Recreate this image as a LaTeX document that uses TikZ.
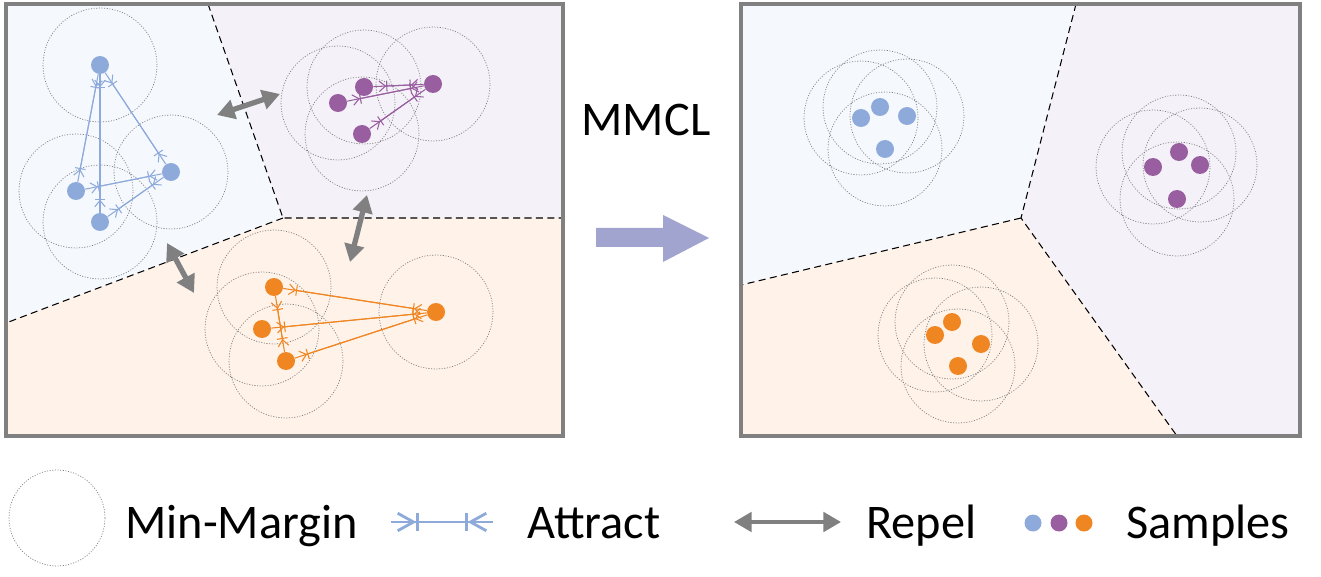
\documentclass[tikz,border=0pt]{standalone}
\usepackage{fontspec}
\setmainfont{Carlito}
\usetikzlibrary{arrows.meta}
\definecolor{sblue}{RGB}{142,170,219}
\definecolor{spurple}{RGB}{152,94,160}
\definecolor{sorange}{RGB}{240,134,34}
\definecolor{rblue}{RGB}{245,249,254}
\definecolor{rpurple}{RGB}{244,241,248}
\definecolor{rorange}{RGB}{254,242,233}
\definecolor{framegray}{RGB}{128,128,128}
\definecolor{mmclarrow}{RGB}{162,164,208}
\tikzset{
  samplept/.style={circle,fill=#1,inner sep=0pt,minimum size=.36cm},
  minmargin/.style={draw=gray,line width=.4pt,dash pattern=on .6pt off .9pt},
  attract/.style={draw=#1,line width=.6pt,postaction={draw=#1,-},
    {Straight Barb[reversed,length=3.6pt,width=6pt,sep=3pt]Bar[width=6pt]}-{Bar[width=6pt]Straight Barb[reversed,length=3.6pt,width=6pt,sep=3pt]}},
  attractkey/.style={draw=#1,line width=1.6pt,postaction={draw=#1,-},
    {Straight Barb[reversed,length=9pt,width=10pt,sep=3pt]Bar[width=10pt]}-{Bar[width=10pt]Straight Barb[reversed,length=9pt,width=10pt,sep=3pt]}},
  repel/.style={draw=framegray,line width=3pt,{Triangle[length=10pt,width=11pt]}-{Triangle[length=10pt,width=11pt]}},
  panel/.style={draw=framegray,line width=2.3pt},
  bound/.style={dash pattern=on 4pt off 2.5pt,line width=.6pt},
  legendtext/.style={inner sep=0pt,font=\fontsize{27.5}{33}\selectfont}
}
\begin{document}
\begin{tikzpicture}[x={(.02cm,0)},y={(0,-.02cm)}]
\useasboundingbox (0,0) rectangle (1321,577);

% before: left panel
\fill[rblue] (6,4) -- (208,4) -- (283,218) -- (6,323) -- cycle;
\fill[rpurple] (208,4) -- (563,4) -- (563,218) -- (283,218) -- cycle;
\fill[rorange] (6,323) -- (283,218) -- (563,218) -- (563,436) -- (6,436) -- cycle;
\draw[bound] (208,4) -- (283,218) -- (563,218);
\draw[bound] (283,218) -- (6,323);

\node[samplept=sblue] (b1) at (100,65) {};
\node[samplept=sblue] (b2) at (76,191) {};
\node[samplept=sblue] (b3) at (100,222) {};
\node[samplept=sblue] (b4) at (171,172) {};
\node[samplept=spurple] (p1) at (364,87) {};
\node[samplept=spurple] (p2) at (338,103) {};
\node[samplept=spurple] (p3) at (362,134) {};
\node[samplept=spurple] (p4) at (433,84) {};
\node[samplept=sorange] (o1) at (274,287) {};
\node[samplept=sorange] (o2) at (262,329) {};
\node[samplept=sorange] (o3) at (286,361) {};
\node[samplept=sorange] (o4) at (436,312) {};

\foreach \n in {b1,b2,b3,b4,p1,p2,p3,p4,o1,o2,o3,o4}
  \draw[minmargin] (\n) circle (1.14cm);

\draw[attract=sblue] (b1) -- (b2);
\draw[attract=sblue] (b1) -- (b3);
\draw[attract=sblue] (b1) -- (b4);
\draw[attract=sblue] (b2) -- (b4);
\draw[attract=sblue] (b3) -- (b4);
\draw[attract=spurple] (p1) -- (p4);
\draw[attract=spurple] (p2) -- (p4);
\draw[attract=spurple] (p3) -- (p4);
\draw[attract=sorange] (o1) -- (o4);
\draw[attract=sorange] (o2) -- (o4);
\draw[attract=sorange] (o3) -- (o4);
\draw[attract=sorange] (o1) -- (o3);

\coordinate (r1a) at (217,115);
\coordinate (r1b) at (280,94);
\coordinate (r2a) at (367,195);
\coordinate (r2b) at (350,262);
\coordinate (r3a) at (167,243);
\coordinate (r3b) at (194,293);
\draw[repel] (r1a) -- (r1b);
\draw[repel] (r2a) -- (r2b);
\draw[repel] (r3a) -- (r3b);
\draw[panel] (6,4) rectangle (563,436);

% MMCL
\node[legendtext,anchor=base] (mmcl) at (646,136) {MMCL};
\fill[mmclarrow] (596,228) -- (663,228) -- (663,215) -- (709,238)
  -- (663,262) -- (663,247) -- (596,247) -- cycle;

% after: right panel
\fill[rblue] (741,4) -- (1076,4) -- (1021,218) -- (741,285) -- cycle;
\fill[rpurple] (1076,4) -- (1300,4) -- (1300,436) -- (1177,436) -- (1021,218) -- cycle;
\fill[rorange] (741,285) -- (1021,218) -- (1177,436) -- (741,436) -- cycle;
\draw[bound] (1076,4) -- (1021,218) -- (1177,436);
\draw[bound] (1021,218) -- (741,285);

\node[samplept=sblue] (rb1) at (861,118) {};
\node[samplept=sblue] (rb2) at (880,107) {};
\node[samplept=sblue] (rb3) at (907,116) {};
\node[samplept=sblue] (rb4) at (885,149) {};
\node[samplept=spurple] (rp1) at (1153,167) {};
\node[samplept=spurple] (rp2) at (1179,152) {};
\node[samplept=spurple] (rp3) at (1200,165) {};
\node[samplept=spurple] (rp4) at (1177,199) {};
\node[samplept=sorange] (ro1) at (935,335) {};
\node[samplept=sorange] (ro2) at (952,322) {};
\node[samplept=sorange] (ro3) at (981,344) {};
\node[samplept=sorange] (ro4) at (958,366) {};

\foreach \n in {rb1,rb2,rb3,rb4,rp1,rp2,rp3,rp4,ro1,ro2,ro3,ro4}
  \draw[minmargin] (\n) circle (1.14cm);
\draw[panel] (741,4) rectangle (1300,436);

% legend
\draw[minmargin] (57,518) circle (.96cm);
\node[legendtext,anchor=base west] (kmargin) at (125,538) {Min-Margin};
\coordinate (ka1) at (391,522);
\coordinate (ka2) at (493,522);
\draw[attractkey=sblue] (ka1) -- (ka2);
\node[legendtext,anchor=base west] (kattract) at (527,538) {Attract};
\coordinate (kr1) at (734,522);
\coordinate (kr2) at (841,522);
\draw[repel,line width=2.2pt] (kr1) -- (kr2);
\node[legendtext,anchor=base west] (krepel) at (866,538) {Repel};
\node[samplept=sblue,minimum size=.34cm] (kb) at (1033,523) {};
\node[samplept=spurple,minimum size=.34cm] (kp) at (1059,523) {};
\node[samplept=sorange,minimum size=.34cm] (ko) at (1084,523) {};
\node[legendtext,anchor=base west] (ksamples) at (1126,538) {Samples};

\end{tikzpicture}
\end{document}
